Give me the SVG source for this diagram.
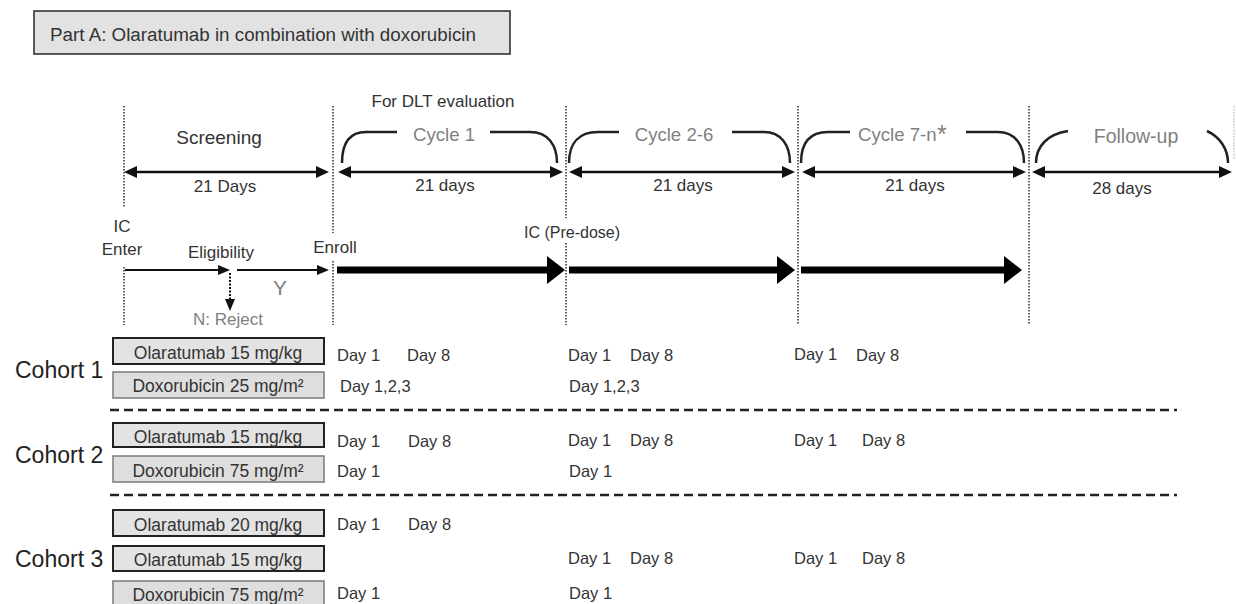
<svg xmlns="http://www.w3.org/2000/svg" width="1236" height="604" viewBox="0 0 1236 604">
<style>
  text { font-family: "Liberation Sans", Arial, sans-serif; fill: #333; }
  .gray { fill: #7f7f7f; }
  .cyc { font-size: 18.6px; fill: #7f7f7f; }
  .days { font-size: 17px; text-anchor: middle; }
  .lbl { font-size: 17px; }
  .day { font-size: 16.5px; }
  .cohort { font-size: 23px; fill: #222; }
  .boxtxt { font-size: 17.5px; text-anchor: middle; }
  .vdot { stroke: #444; stroke-width: 1.7; stroke-dasharray: 1.6 1.4; fill: none; }
  .dbl { stroke: #111; stroke-width: 2.5; fill: none; marker-start: url(#ah); marker-end: url(#ah); }
  .thin { stroke: #111; stroke-width: 2; fill: none; marker-end: url(#ahs); }
  .thick { stroke: #000; stroke-width: 7; fill: none; marker-end: url(#big); }
  .brace { stroke: #222; stroke-width: 2.5; fill: none; }
  .sep { stroke: #222; stroke-width: 2.5; stroke-dasharray: 9 5; fill: none; }
  .boxO { fill: #e3e3e3; stroke: #222; stroke-width: 2; }
  .boxD { fill: #dedede; stroke: #7a7a7a; stroke-width: 1.5; }
</style>
<defs>
  <marker id="ah" markerUnits="userSpaceOnUse" markerWidth="14" markerHeight="13" refX="0" refY="6" orient="auto-start-reverse" overflow="visible">
    <path d="M0,0 L13,6 L0,12 z" fill="#111"/>
  </marker>
  <marker id="ahs" markerUnits="userSpaceOnUse" markerWidth="13" markerHeight="11" refX="0" refY="5" orient="auto" overflow="visible">
    <path d="M0,0 L12,5 L0,10 z" fill="#111"/>
  </marker>
  <marker id="big" markerUnits="userSpaceOnUse" markerWidth="19" markerHeight="29" refX="0" refY="14" orient="auto" overflow="visible">
    <path d="M0,0 L18,14 L0,28 z" fill="#000"/>
  </marker>
</defs>
<rect width="1236" height="604" fill="#fff"/>

<g id="title">
  <rect x="34" y="11" width="476" height="43" fill="#e2e2e2" stroke="#333" stroke-width="1.6"/>
  <text x="50" y="41" style="font-size:18.8px">Part A: Olaratumab in combination with doxorubicin</text>
</g>

<g id="gridlines">
  <path class="vdot" d="M124,106 V208 M124,267 V325"/>
  <path class="vdot" d="M333,106 V233 M333,261 V325"/>
  <path class="vdot" d="M566,106 V218 M566,243 V325"/>
  <path class="vdot" d="M798,106 V325"/>
  <path class="vdot" d="M1029,106 V325"/>
  <path class="vdot" d="M1234,106 V160" style="stroke:#ccc"/>
</g>

<g id="screening">
  <text x="219" y="144" style="font-size:19px" text-anchor="middle">Screening</text>
  <text x="225" y="192" class="days">21 Days</text>
</g>

<g id="cycle1">
  <text x="443" y="107" class="lbl" text-anchor="middle">For DLT evaluation</text>
  <path class="brace" d="M342,163 C342,143 350,132 366,132 H397 M490,132 H530 C548,132 557,145 557,163"/>
  <text x="444" y="141" class="cyc" text-anchor="middle">Cycle 1</text>
  <text x="445" y="191" class="days">21 days</text>
</g>

<g id="cycle2-6">
  <path class="brace" d="M569,163 C569,143 579,132 598,132 H619 M732,132 H764 C781,132 790,145 790,163"/>
  <text x="674" y="141" class="cyc" text-anchor="middle">Cycle 2-6</text>
  <text x="683" y="191" class="days">21 days</text>
</g>

<g id="cycle7-n">
  <path class="brace" d="M801,163 C801,143 810,132 828,132 H850 M966,132 H998 C1015,132 1024,145 1024,163"/>
  <text x="858" y="141" class="cyc">Cycle 7-n</text>
  <text x="937" y="143" style="font-size:25px" class="gray">*</text>
  <text x="915" y="191" class="days">21 days</text>
</g>

<g id="follow-up">
  <path class="brace" d="M1036,163 C1036,146 1048,134 1068,131 M1207,131 C1220,137 1228,149 1228,163"/>
  <text x="1136" y="143" class="cyc" text-anchor="middle" style="font-size:19.5px">Follow-up</text>
  <text x="1122" y="194" class="days">28 days</text>
</g>

<g id="enrollment">
  <text x="122" y="232" class="lbl" text-anchor="middle">IC</text>
  <text x="122" y="255" class="lbl" text-anchor="middle">Enter</text>
  <text x="221" y="258" class="lbl" text-anchor="middle">Eligibility</text>
  <text x="280" y="295" class="gray" style="font-size:21px" text-anchor="middle">Y</text>
  <text x="228" y="325" class="gray lbl" text-anchor="middle">N: Reject</text>
  <text x="335" y="253" class="lbl" text-anchor="middle">Enroll</text>
  <text x="572" y="238" style="font-size:16px" text-anchor="middle">IC (Pre-dose)</text>
</g>

<g id="connectors">
  <line class="dbl" x1="137" y1="172" x2="316" y2="172"/>
  <line class="dbl" x1="351" y1="172" x2="550" y2="172"/>
  <line class="dbl" x1="582" y1="172" x2="782" y2="172"/>
  <line class="dbl" x1="815" y1="172" x2="1013" y2="172"/>
  <line class="dbl" x1="1045" y1="172" x2="1219" y2="172"/>
  <line class="thin" x1="125" y1="270" x2="218" y2="270"/>
  <line class="thin" x1="237" y1="270" x2="317" y2="270"/>
  <line x1="230" y1="273" x2="230" y2="299" stroke="#111" stroke-width="2" stroke-dasharray="2 1.5" marker-end="url(#ahs)"/>
  <line class="thick" x1="337" y1="270" x2="547" y2="270"/>
  <line class="thick" x1="569" y1="270" x2="777" y2="270"/>
  <line class="thick" x1="801" y1="270" x2="1004" y2="270"/>
  <line class="sep" x1="110" y1="410" x2="1177" y2="410"/>
  <line class="sep" x1="110" y1="495" x2="1177" y2="495"/>
</g>

<g id="cohort1">
  <text x="15" y="378" class="cohort">Cohort 1</text>
  <rect class="boxO" x="113" y="338" width="211" height="26"/>
  <text x="218" y="359" class="boxtxt">Olaratumab 15 mg/kg</text>
  <rect class="boxD" x="113" y="372" width="211" height="26"/>
  <text x="218" y="392" class="boxtxt">Doxorubicin 25 mg/m²</text>
  <text x="337" y="361" class="day">Day 1</text>
  <text x="407" y="361" class="day">Day 8</text>
  <text x="568" y="361" class="day">Day 1</text>
  <text x="630" y="361" class="day">Day 8</text>
  <text x="794" y="360" class="day">Day 1</text>
  <text x="856" y="361" class="day">Day 8</text>
  <text x="340" y="392" class="day">Day 1,2,3</text>
  <text x="569" y="392" class="day">Day 1,2,3</text>
</g>

<g id="cohort2">
  <text x="15" y="463" class="cohort">Cohort 2</text>
  <rect class="boxO" x="113" y="423" width="211" height="24"/>
  <text x="218" y="443" class="boxtxt">Olaratumab 15 mg/kg</text>
  <rect class="boxD" x="113" y="456" width="211" height="26"/>
  <text x="218" y="477" class="boxtxt">Doxorubicin 75 mg/m²</text>
  <text x="337" y="447" class="day">Day 1</text>
  <text x="408" y="447" class="day">Day 8</text>
  <text x="568" y="446" class="day">Day 1</text>
  <text x="630" y="446" class="day">Day 8</text>
  <text x="794" y="446" class="day">Day 1</text>
  <text x="862" y="446" class="day">Day 8</text>
  <text x="337" y="477" class="day">Day 1</text>
  <text x="569" y="477" class="day">Day 1</text>
</g>

<g id="cohort3">
  <text x="15" y="567" class="cohort">Cohort 3</text>
  <rect class="boxO" x="113" y="510" width="211" height="26"/>
  <text x="218" y="531" class="boxtxt">Olaratumab 20 mg/kg</text>
  <rect class="boxO" x="113" y="546" width="211" height="25"/>
  <text x="218" y="566" class="boxtxt">Olaratumab 15 mg/kg</text>
  <rect class="boxD" x="113" y="581" width="211" height="26"/>
  <text x="218" y="601" class="boxtxt">Doxorubicin 75 mg/m²</text>
  <text x="337" y="530" class="day">Day 1</text>
  <text x="408" y="530" class="day">Day 8</text>
  <text x="568" y="564" class="day">Day 1</text>
  <text x="630" y="564" class="day">Day 8</text>
  <text x="794" y="564" class="day">Day 1</text>
  <text x="862" y="564" class="day">Day 8</text>
  <text x="337" y="599" class="day">Day 1</text>
  <text x="569" y="599" class="day">Day 1</text>
</g>
</svg>
